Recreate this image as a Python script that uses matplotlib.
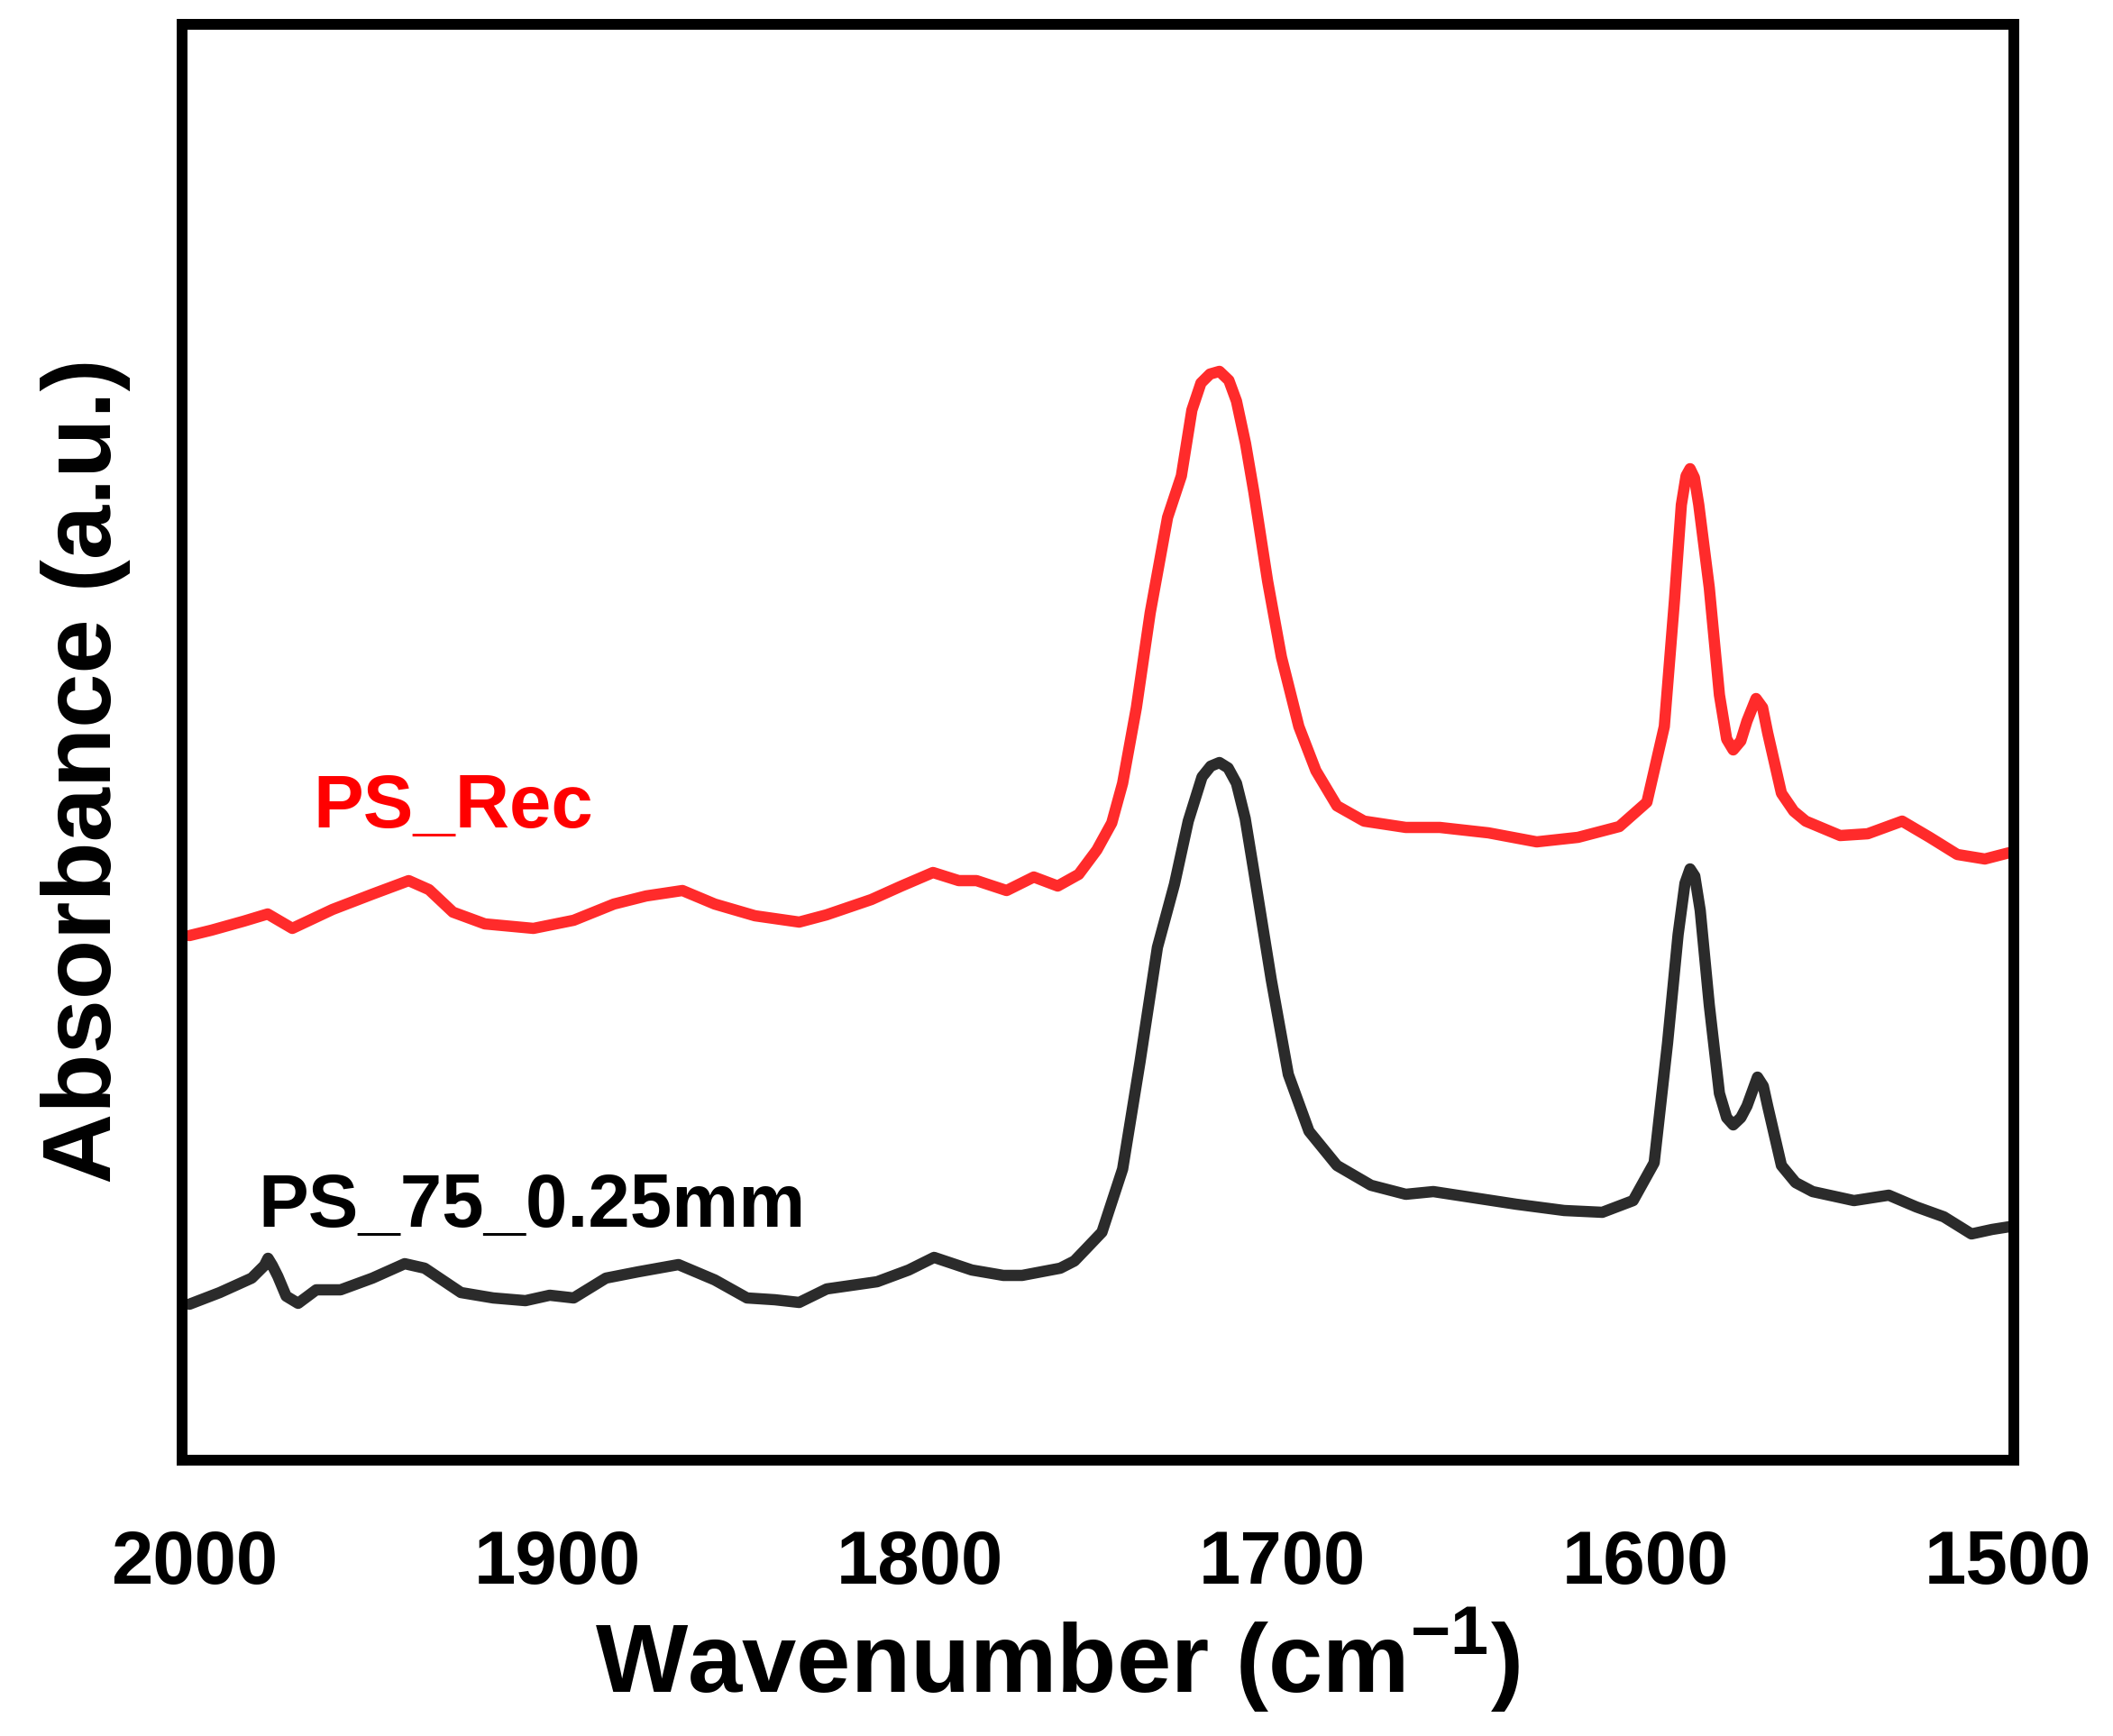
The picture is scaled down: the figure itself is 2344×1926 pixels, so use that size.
""" FTIR absorbance spectra of PS samples, 2000-1500 cm-1 """

import matplotlib
matplotlib.use("Agg")
import matplotlib.pyplot as plt

# wavenumber (cm-1) and absorbance (a.u.)
wn_rec = [2001.5, 1995.4, 1986.5, 1979.9, 1973.1, 1962.0, 1951.0, 1941.0,
          1935.4, 1928.8, 1920.0, 1906.6, 1895.5, 1884.4, 1875.5, 1865.5,
          1856.6, 1845.5, 1833.3, 1825.8, 1813.4, 1805.1, 1796.4, 1789.3,
          1784.4, 1776.1, 1768.6, 1762.0, 1756.2, 1751.2, 1747.1, 1744.1,
          1740.3, 1736.5, 1731.7, 1727.9, 1725.0, 1722.5, 1720.0, 1717.4,
          1714.8, 1712.7, 1710.2, 1707.9, 1704.1, 1700.3, 1695.5, 1690.8,
          1685.0, 1677.5, 1666.0, 1656.6, 1643.2, 1629.9, 1618.5, 1607.1,
          1599.5, 1594.7, 1591.9, 1590.0, 1588.7, 1587.6, 1586.4, 1585.2,
          1582.3, 1579.5, 1577.5, 1575.7, 1573.6, 1571.9, 1569.4, 1567.6,
          1566.2, 1562.4, 1559.0, 1555.7, 1546.2, 1538.6, 1529.1, 1521.5,
          1513.9, 1506.3, 1498.6]
abs_rec = [0.582, 0.588, 0.598, 0.606, 0.590, 0.611, 0.628, 0.643,
           0.633, 0.608, 0.595, 0.590, 0.599, 0.617, 0.626, 0.632,
           0.617, 0.604, 0.597, 0.605, 0.622, 0.637, 0.652, 0.643,
           0.643, 0.632, 0.647, 0.637, 0.650, 0.677, 0.707, 0.751,
           0.835, 0.940, 1.046, 1.092, 1.165, 1.195, 1.205, 1.208,
           1.198, 1.175, 1.128, 1.074, 0.975, 0.891, 0.814, 0.765,
           0.726, 0.709, 0.702, 0.702, 0.696, 0.686, 0.691, 0.703,
           0.730, 0.814, 0.954, 1.060, 1.092, 1.100, 1.090, 1.060,
           0.968, 0.849, 0.800, 0.788, 0.798, 0.820, 0.845, 0.835,
           0.807, 0.740, 0.720, 0.709, 0.693, 0.695, 0.709, 0.691,
           0.672, 0.667, 0.675]

wn_75 = [2001.5, 1993.1, 1984.3, 1980.8, 1979.8, 1978.6, 1977.1, 1974.8,
         1971.5, 1966.5, 1959.8, 1951.0, 1942.1, 1936.6, 1926.6, 1917.7,
         1908.8, 1902.1, 1895.5, 1886.6, 1877.7, 1866.6, 1856.6, 1847.7,
         1840.0, 1833.3, 1825.7, 1811.8, 1803.1, 1796.1, 1785.7, 1777.0,
         1771.8, 1761.3, 1757.4, 1754.3, 1749.8, 1744.1, 1739.3, 1734.5,
         1729.8, 1726.0, 1722.2, 1719.8, 1717.4, 1715.0, 1712.7, 1710.3,
         1707.9, 1703.1, 1698.4, 1692.7, 1685.0, 1675.6, 1666.0, 1658.4,
         1647.0, 1635.6, 1622.3, 1611.8, 1603.3, 1597.5, 1593.8, 1590.9,
         1589.0, 1587.6, 1586.3, 1584.8, 1582.3, 1579.5, 1577.5, 1575.7,
         1573.6, 1571.9, 1569.0, 1567.4, 1566.2, 1562.4, 1558.5, 1553.8,
         1542.4, 1532.8, 1525.2, 1517.6, 1510.0, 1504.3, 1498.0]
abs_75 = [0.173, 0.186, 0.202, 0.216, 0.224, 0.216, 0.204, 0.182,
          0.174, 0.189, 0.189, 0.202, 0.218, 0.213, 0.186, 0.180,
          0.177, 0.183, 0.180, 0.202, 0.209, 0.217, 0.200, 0.180,
          0.178, 0.175, 0.190, 0.198, 0.211, 0.225, 0.211, 0.205,
          0.205, 0.213, 0.221, 0.234, 0.253, 0.323, 0.442, 0.569,
          0.639, 0.709, 0.758, 0.770, 0.774, 0.768, 0.751, 0.712,
          0.653, 0.533, 0.428, 0.365, 0.327, 0.305, 0.295, 0.298,
          0.291, 0.284, 0.277, 0.275, 0.288, 0.330, 0.463, 0.583,
          0.640, 0.656, 0.648, 0.610, 0.505, 0.407, 0.380, 0.372,
          0.380, 0.393, 0.425, 0.415, 0.393, 0.327, 0.308, 0.298,
          0.288, 0.294, 0.281, 0.270, 0.251, 0.256, 0.260]

xticks = [2000, 1900, 1800, 1700, 1600, 1500]

plt.rcParams['font.family'] = ['Liberation Sans', 'DejaVu Sans']
plt.rcParams['font.weight'] = 'bold'
plt.rcParams['mathtext.fontset'] = 'custom'
plt.rcParams['mathtext.rm'] = 'Liberation Sans:bold'
plt.rcParams['mathtext.bf'] = 'Liberation Sans:bold'

W, H = 2344, 1926
fig = plt.figure(figsize=(W / 100, H / 100), dpi=100)
ax = fig.add_axes([202 / W, 1 - 1620 / H, (2234 - 202) / W, (1620 - 27.5) / H])

ax.plot(wn_rec, abs_rec, color='#ff2b2b', lw=9, solid_joinstyle='round',
        solid_capstyle='round')
ax.plot(wn_75, abs_75, color='#2b2b2b', lw=9, solid_joinstyle='round',
        solid_capstyle='round')

ax.set_xlim(2003.5, 1498.3)
ax.set_ylim(0, 1.5925)
ax.set_xticks(xticks)
ax.set_xticklabels([str(t) for t in xticks], fontsize=60, fontweight='bold')
ax.set_yticks([])
ax.tick_params(axis='x', length=0, pad=55)
for s in ax.spines.values():
    s.set_linewidth(8.6)
    s.set_color('black')

ax.text(1967.4, 0.702, "PS_Rec", color='#ff0000', fontsize=60,
        fontweight='bold', ha='left', va='baseline')
ax.text(1982.6, 0.259, "PS_75_0.25mm", color='black', fontsize=60,
        fontweight='bold', ha='left', va='baseline')

fig.text(1173 / W, 1 - 1878 / H, r"Wavenumber (cm$^{\mathbf{-1}}$)",
         fontsize=78, fontweight='bold', ha='center', va='baseline')
fig.text(123 / W, 1 - 855 / H, "Absorbance (a.u.)", fontsize=78,
         fontweight='bold', rotation=90, rotation_mode='anchor',
         ha='center', va='baseline')

fig.savefig("out.png", dpi=100, facecolor='white')
